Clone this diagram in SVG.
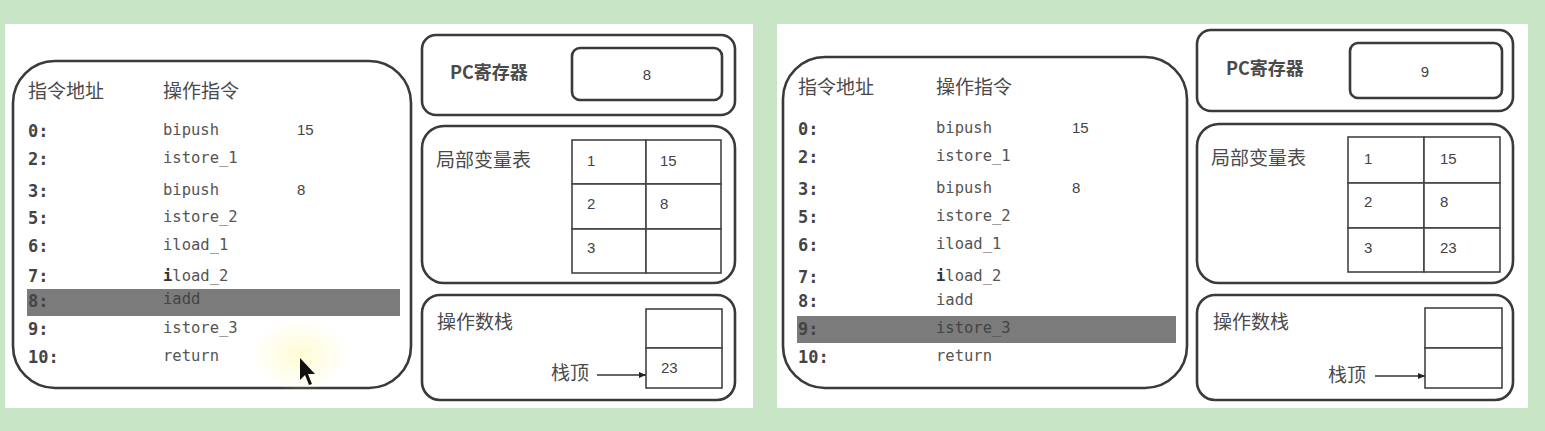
<svg xmlns="http://www.w3.org/2000/svg" width="1545" height="431" viewBox="0 0 1545 431">
<style>
.bg{fill:#c8e6c6}
.panel{fill:#ffffff}
.box{fill:#ffffff;stroke:#3a3a3a;stroke-width:2.6}
.cell{fill:#ffffff;stroke:#444;stroke-width:1.6}
.zh{font-family:"Noto Sans CJK SC","Noto Sans",sans-serif;font-size:19px;fill:#4a4a4a}
.addr{font-family:"DejaVu Sans Mono","Liberation Mono",monospace;font-size:17px;font-weight:bold;fill:#444}
.ins{font-family:"DejaVu Sans Mono","Liberation Mono",monospace;font-size:15.5px;fill:#555}
.num{font-family:"Liberation Sans","DejaVu Sans",sans-serif;font-size:15px;fill:#444}
.pcl{font-family:"Noto Sans CJK SC","Noto Sans",sans-serif;font-size:18px;font-weight:bold;fill:#4a4a4a}
.hl{fill:#7b7b7b}
.conn{stroke:#333;stroke-width:1.5;fill:none}
</style>
<defs>
<marker id="ah" markerWidth="8" markerHeight="8" refX="7" refY="4" orient="auto" markerUnits="userSpaceOnUse">
<path d="M0,1 L7,4 L0,7 Z" fill="#222"/>
</marker>
<radialGradient id="glow" cx="0.5" cy="0.5" r="0.5">
<stop offset="0" stop-color="#fffbd0" stop-opacity="0.9"/>
<stop offset="1" stop-color="#fffbd0" stop-opacity="0"/>
</radialGradient>
</defs>
<rect class="bg" x="0" y="0" width="1545" height="431"/>
<rect class="panel" x="5" y="24" width="748" height="384"/>
<rect class="panel" x="777" y="24" width="751" height="384"/>

<!-- LEFT STATE -->
<g id="left-program">
<rect class="box" x="13" y="61" width="398" height="327" rx="42"/>
<rect class="hl" x="27" y="289" width="373" height="27"/>
<text class="zh" x="28" y="98">指令地址</text>
<text class="zh" x="163" y="98">操作指令</text>
<text class="addr" x="28" y="137">0:</text><text class="ins" x="163" y="135">bipush</text><text class="num" x="297" y="135">15</text>
<text class="addr" x="28" y="165">2:</text><text class="ins" x="163" y="163">istore_1</text>
<text class="addr" x="28" y="197">3:</text><text class="ins" x="163" y="195">bipush</text><text class="num" x="297" y="195">8</text>
<text class="addr" x="28" y="224">5:</text><text class="ins" x="163" y="222">istore_2</text>
<text class="addr" x="28" y="252">6:</text><text class="ins" x="163" y="250">iload_1</text>
<text class="addr" x="28" y="282">7:</text><text class="ins" x="163" y="281"><tspan font-weight="bold" fill="#333">i</tspan>load_2</text>
<text class="addr" x="28" y="307" fill="#3a3a3a">8:</text><text class="ins" x="163" y="304" style="fill:#444">iadd</text>
<text class="addr" x="28" y="335">9:</text><text class="ins" x="163" y="333">istore_3</text>
<text class="addr" x="28" y="363">10:</text><text class="ins" x="163" y="361">return</text>
</g>
<g id="cursor">
<ellipse cx="300" cy="355" rx="50" ry="36" fill="url(#glow)"/>
<path d="M300,358 L300,380 L305,375 L309,385 L312,384 L308,374 L315,374 Z" fill="#111"/>
</g>
<g id="left-pc">
<rect class="box" x="422" y="35" width="313" height="80" rx="14"/>
<text class="pcl" x="450" y="79">PC寄存器</text>
<rect class="box" x="572" y="48" width="150" height="52" rx="8"/>
<text class="num" x="647" y="80" text-anchor="middle">8</text>
</g>
<g id="left-locals">
<rect class="box" x="422" y="126" width="313" height="157" rx="22"/>
<text class="zh" x="436" y="167">局部变量表</text>
<rect class="cell" x="572" y="140" width="74" height="44"/><rect class="cell" x="646" y="140" width="75" height="44"/>
<rect class="cell" x="572" y="184" width="74" height="45"/><rect class="cell" x="646" y="184" width="75" height="45"/>
<rect class="cell" x="572" y="229" width="74" height="44"/><rect class="cell" x="646" y="229" width="75" height="44"/>
<text class="num" x="587" y="166">1</text><text class="num" x="660" y="166">15</text>
<text class="num" x="587" y="209">2</text><text class="num" x="660" y="209">8</text>
<text class="num" x="587" y="253">3</text>
</g>
<g id="left-stack">
<rect class="box" x="422" y="295" width="313" height="105" rx="18"/>
<text class="zh" x="437" y="329">操作数栈</text>
<rect class="cell" x="646" y="309" width="76" height="39"/>
<rect class="cell" x="646" y="348" width="76" height="40"/>
<text class="zh" x="551" y="380">栈顶</text>
<text class="num" x="661" y="373">23</text>
</g>

<!-- RIGHT STATE -->
<g id="right-program">
<rect class="box" x="783" y="57" width="404" height="331" rx="42"/>
<rect class="hl" x="797" y="316" width="379" height="27"/>
<text class="zh" x="798" y="94">指令地址</text>
<text class="zh" x="936" y="94">操作指令</text>
<text class="addr" x="798" y="135">0:</text><text class="ins" x="936" y="133">bipush</text><text class="num" x="1072" y="133">15</text>
<text class="addr" x="798" y="163">2:</text><text class="ins" x="936" y="161">istore_1</text>
<text class="addr" x="798" y="195">3:</text><text class="ins" x="936" y="193">bipush</text><text class="num" x="1072" y="193">8</text>
<text class="addr" x="798" y="223">5:</text><text class="ins" x="936" y="221">istore_2</text>
<text class="addr" x="798" y="251">6:</text><text class="ins" x="936" y="249">iload_1</text>
<text class="addr" x="798" y="283">7:</text><text class="ins" x="936" y="281"><tspan font-weight="bold" fill="#333">i</tspan>load_2</text>
<text class="addr" x="798" y="307">8:</text><text class="ins" x="936" y="305">iadd</text>
<text class="addr" x="798" y="335" fill="#3a3a3a">9:</text><text class="ins" x="936" y="333" style="fill:#444">istore_3</text>
<text class="addr" x="798" y="363">10:</text><text class="ins" x="936" y="361">return</text>
</g>
<g id="right-pc">
<rect class="box" x="1197" y="30" width="316" height="81" rx="14"/>
<text class="pcl" x="1226" y="75">PC寄存器</text>
<rect class="box" x="1350" y="43" width="152" height="55" rx="8"/>
<text class="num" x="1425" y="77" text-anchor="middle">9</text>
</g>
<g id="right-locals">
<rect class="box" x="1197" y="124" width="316" height="159" rx="22"/>
<text class="zh" x="1211" y="165">局部变量表</text>
<rect class="cell" x="1348" y="137" width="76" height="46"/><rect class="cell" x="1424" y="137" width="76" height="46"/>
<rect class="cell" x="1348" y="183" width="76" height="45"/><rect class="cell" x="1424" y="183" width="76" height="45"/>
<rect class="cell" x="1348" y="228" width="76" height="44"/><rect class="cell" x="1424" y="228" width="76" height="44"/>
<text class="num" x="1364" y="164">1</text><text class="num" x="1440" y="164">15</text>
<text class="num" x="1364" y="207">2</text><text class="num" x="1440" y="207">8</text>
<text class="num" x="1364" y="253">3</text><text class="num" x="1440" y="253">23</text>
</g>
<g id="right-stack">
<rect class="box" x="1197" y="295" width="316" height="105" rx="18"/>
<text class="zh" x="1213" y="329">操作数栈</text>
<rect class="cell" x="1425" y="308" width="77" height="40"/>
<rect class="cell" x="1425" y="348" width="77" height="40"/>
<text class="zh" x="1328" y="382">栈顶</text>
</g>

<g id="connectors">
<line class="conn" x1="597" y1="375" x2="646" y2="375" marker-end="url(#ah)"/>
<line class="conn" x1="1375" y1="376" x2="1425" y2="376" marker-end="url(#ah)"/>
</g>
</svg>
